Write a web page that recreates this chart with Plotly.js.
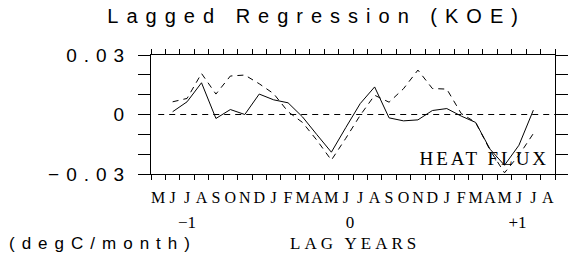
<!DOCTYPE html>
<html>
<head>
<meta charset="utf-8">
<script src="https://cdn.plot.ly/plotly-3.0.1.min.js"></script>
<style>
  html, body { margin: 0; padding: 0; background: #fff; }
  #chart { width: 578px; height: 264px; }
  .gtitle { letter-spacing: 8px; }
  .ytick text { letter-spacing: 7px; }
  g.annotation[data-index="0"] text { letter-spacing: 3px; }
  g.annotation[data-index="1"] text { letter-spacing: 4px; }
  g.annotation[data-index="2"] text { letter-spacing: 7px; }
</style>
</head>
<body>
<div id="chart"></div>
<script>
// Month-bin labels along the lag axis (bin index 0..27)
const monthLabels = ['M','J','J','A','S','O','N','D','J','F','M','A','M','J','J','A','S','O','N','D','J','F','M','A','M','J','J','A'];
const monthPos = [0,1,2,3,4,5,6,7,8,9,10,11,12,13,14,15,16,17,18,19,20,21,22,23,24,25,26,27];
// Year boundaries (long ticks) and lag-year labels
const yearBoundaries = [7.5, 19.5];
const lagYearPos = [2.0, 13.3, 24.9];
const lagYearText = ['\u22121', '0', '+1'];
// Data: lag month index and regression values
const lagMonth = [1,2,3,4,5,6,7,8,9,10,11,12,13,14,15,16,17,18,19,20,21,22,23,24,25,26];
const solidSeries = [0.0014,0.0064,0.0160,-0.0020,0.0025,0.0000,0.0103,0.0074,0.0059,-0.0012,
                     -0.0102,-0.0190,-0.0066,0.0055,0.0139,-0.0017,-0.0032,-0.0027,0.0020,0.0030,
                     -0.0008,-0.0040,-0.0175,-0.0256,-0.0155,0.0022];
const dashedSeries = [0.0064,0.0081,0.0207,0.0103,0.0194,0.0199,0.0155,0.0105,0.0014,-0.0040,
                      -0.0130,-0.0230,-0.0120,-0.0004,0.0097,0.0062,0.0130,0.0224,0.0131,0.0128,
                      0.0005,-0.0040,-0.0180,-0.0294,-0.0205,-0.0096];
const yTickVals = [-0.03, 0, 0.03];
const yTickText = ['\u22120.03', '0', '0.03'];

const xRange = [-0.5, 27.5];
const black = '#000';

const traces = [
  {x: lagMonth, y: solidSeries, mode: 'lines', line: {color: black, width: 1}, hoverinfo: 'skip'},
  {x: lagMonth, y: dashedSeries, mode: 'lines', line: {color: black, width: 1, dash: '6px,5px'}, hoverinfo: 'skip'},
  // invisible traces to activate overlay label axes
  {x: [monthPos[0]], y: [0], xaxis: 'x2', mode: 'markers', marker: {opacity: 0}, hoverinfo: 'skip'},
  {x: [monthPos[0]], y: [0], xaxis: 'x3', mode: 'markers', marker: {opacity: 0}, hoverinfo: 'skip'}
];

const layout = {
  width: 578, height: 264,
  margin: {l: 151, r: 23, t: 55, b: 90},
  paper_bgcolor: '#fff', plot_bgcolor: '#fff',
  showlegend: false,
  title: {
    text: 'Lagged Regression (KOE)',
    x: 0.41, xref: 'paper', xanchor: 'center',
    y: 0.94, yref: 'container', yanchor: 'middle',
    font: {family: 'Liberation Sans, Arial, sans-serif', size: 20, color: black}
  },
  xaxis: {
    range: xRange, showgrid: false, zeroline: false,
    showline: true, linecolor: black, linewidth: 1, mirror: 'allticks',
    tickmode: 'array', tickvals: yearBoundaries, ticktext: ['', ''],
    ticks: 'outside', ticklen: 12, tickwidth: 1, tickcolor: black,
    minor: {tickmode: 'linear', tick0: -0.5, dtick: 1, ticks: 'outside', ticklen: 5, tickwidth: 1, tickcolor: black},
    showticklabels: false, fixedrange: true
  },
  xaxis2: {
    overlaying: 'x', anchor: 'y', side: 'bottom', range: xRange,
    showgrid: false, zeroline: false, showline: false, ticks: '',
    tickmode: 'array', tickvals: monthPos, ticktext: monthLabels, tickangle: 0,
    ticklabelstandoff: 12,
    tickfont: {family: 'Liberation Serif, Times New Roman, serif', size: 16, color: black},
    fixedrange: true
  },
  xaxis3: {
    overlaying: 'x', anchor: 'y', side: 'bottom', range: xRange,
    showgrid: false, zeroline: false, showline: false, ticks: '',
    tickmode: 'array', tickvals: lagYearPos, ticktext: lagYearText, tickangle: 0,
    ticklabelstandoff: 36,
    tickfont: {family: 'Liberation Serif, Times New Roman, serif', size: 17, color: black},
    fixedrange: true
  },
  yaxis: {
    range: [-0.03, 0.03], showgrid: false, zeroline: false,
    showline: true, linecolor: black, linewidth: 1, mirror: 'allticks',
    tickmode: 'array', tickvals: yTickVals, ticktext: yTickText,
    ticks: 'outside', ticklen: 12, tickwidth: 1, tickcolor: black,
    minor: {tickmode: 'linear', tick0: 0, dtick: 0.01, ticks: 'outside', ticklen: 5, tickwidth: 1, tickcolor: black},
    ticklabelstandoff: 3,
    tickfont: {family: 'Liberation Sans, Arial, sans-serif', size: 19, color: black},
    fixedrange: true
  },
  shapes: [
    {type: 'line', xref: 'x', yref: 'y', x0: 0, x1: 27.5, y0: 0, y1: 0,
     line: {color: black, width: 1, dash: '6px,5px'}}
  ],
  annotations: [
    {text: 'HEAT FLUX', xref: 'paper', yref: 'paper', x: 0.826, y: 0.13, xanchor: 'center', yanchor: 'middle',
     showarrow: false, font: {family: 'Liberation Serif, Times New Roman, serif', size: 19, color: black}},
    {text: 'LAG YEARS', xref: 'paper', yref: 'paper', x: 0.505, y: -0.58, xanchor: 'center', yanchor: 'middle',
     showarrow: false, font: {family: 'Liberation Serif, Times New Roman, serif', size: 17, color: black}},
    {text: '(degC/month)', xref: 'paper', yref: 'paper', x: -0.118, y: -0.58, xanchor: 'center', yanchor: 'middle',
     showarrow: false, font: {family: 'Liberation Sans, Arial, sans-serif', size: 17, color: black}}
  ]
};

Plotly.newPlot('chart', traces, layout, {staticPlot: true, displayModeBar: false});
</script>
</body>
</html>
